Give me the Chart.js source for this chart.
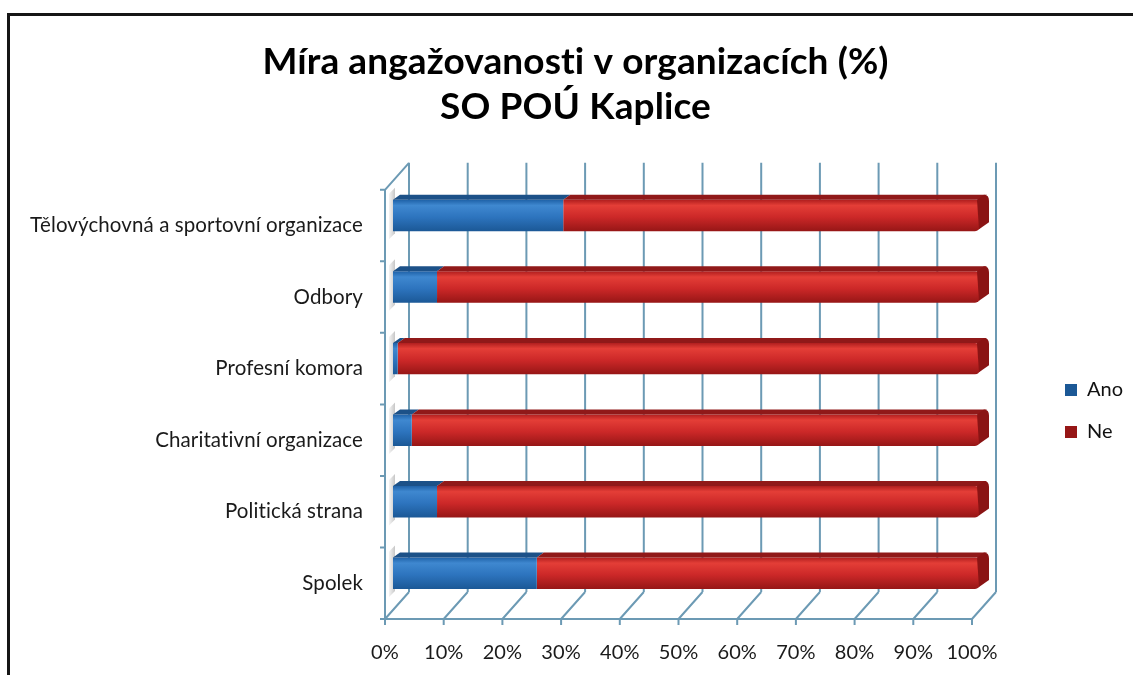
<!DOCTYPE html>
<html>
<head>
<meta charset="utf-8">
<script src="https://cdn.jsdelivr.net/npm/chart.js@4.4.0/dist/chart.umd.min.js"></script>
<style>
html, body { margin: 0; padding: 0; background: #fff; }
#wrap { position: relative; width: 1133px; height: 675px; overflow: hidden; }
#frame { position: absolute; left: 7px; top: 13px; width: 1300px; height: 900px; border-top: 3px solid #161616; border-left: 3px solid #161616; }
canvas { position: absolute; left: 0; top: 0; font-variant-ligatures: none; }
</style>
</head>
<body>
<div id="wrap">
  <div id="frame"></div>
  <canvas id="chart" width="1133" height="675"></canvas>
</div>
<script>
// data
const titleLines = ['Míra angažovanosti v organizacích (%)', 'SO POÚ Kaplice'];
const categories = [
    'Tělovýchovná a sportovní organizace',
    'Odbory',
    'Profesní komora',
    'Charitativní organizace',
    'Politická strana',
    'Spolek'
];
const seriesNames = ['Ano', 'Ne'];
const anoValues = [29, 7.5, 0.8, 3.2, 7.5, 24.5];
const neValues = [71, 92.5, 99.2, 96.8, 92.5, 75.5];
const xTicks = [0, 10, 20, 30, 40, 50, 60, 70, 80, 90, 100];

const FONT = 'Lato';
const GRID = '#6c9ab4';
// 3d offsets relative to the bar plane
const FRONT = { dx: -8, dy: 10 };
const BACK = { dx: 16, dy: -17 };
const DEPTH = { dx: 7, dy: -5 };
const BAR_PCT = 0.44;

const palettes = {
    Ano: { solid: '#2a6fb8', stops: ['#1f62a8', '#3f88d0', '#2d74be', '#1b5896'], top: '#1c5188', side: '#184a80' },
    Ne: { solid: '#cc2727', stops: ['#b01e1e', '#e43e37', '#cc2828', '#961616'], top: '#901919', side: '#8a1414' }
};

function barFill(name) {
    const pal = palettes[name];
    return function(context) {
        const chart = context.chart;
        if (context.dataIndex === undefined || !chart.chartArea || !chart.scales.y) return pal.solid;
        const yScale = chart.scales.y;
        const cy = yScale.getPixelForValue(context.dataIndex);
        const half = (yScale.height / categories.length) * BAR_PCT / 2;
        const g = chart.ctx.createLinearGradient(0, cy - half, 0, cy + half);
        g.addColorStop(0, pal.stops[0]);
        g.addColorStop(0.18, pal.stops[1]);
        g.addColorStop(0.55, pal.stops[2]);
        g.addColorStop(1, pal.stops[3]);
        return g;
    };
}

// no "ti" ligatures, the original font has none
const noLigatures = {
    id: 'noLigatures',
    beforeDraw(chart) {
        chart.ctx.letterSpacing = '0.1px';
    }
};

const frame3d = {
    id: 'frame3d',
    beforeDatasetsDraw(chart) {
        const ctx = chart.ctx;
        const xs = chart.scales.x;
        const area = chart.chartArea;
        const x0 = xs.getPixelForValue(0);
        ctx.save();
        // shadows of the bar ends on the left wall
        chart.getDatasetMeta(0).data.forEach(bar => {
            const top = bar.y - bar.height / 2;
            const bottom = bar.y + bar.height / 2;
            const g = ctx.createLinearGradient(x0 - 6, 0, x0 + 4, 0);
            g.addColorStop(0, 'rgba(150,150,150,0)');
            g.addColorStop(1, 'rgba(120,120,120,0.55)');
            ctx.fillStyle = g;
            ctx.beginPath();
            ctx.moveTo(x0 - 4, top - 6);
            ctx.lineTo(x0 + 2, top - 12);
            ctx.lineTo(x0 + 2, bottom + 2);
            ctx.lineTo(x0 - 4, bottom + 8);
            ctx.closePath();
            ctx.fill();
        });
        ctx.strokeStyle = GRID;
        ctx.lineWidth = 2;
        ctx.beginPath();
        xTicks.forEach(v => {
            const px = xs.getPixelForValue(v);
            // back wall
            ctx.moveTo(px + BACK.dx, area.top + BACK.dy);
            ctx.lineTo(px + BACK.dx, area.bottom + BACK.dy);
            // floor diagonal
            ctx.moveTo(px + FRONT.dx, area.bottom + FRONT.dy);
            ctx.lineTo(px + BACK.dx, area.bottom + BACK.dy);
            // tick mark
            ctx.moveTo(px + FRONT.dx, area.bottom + FRONT.dy);
            ctx.lineTo(px + FRONT.dx, area.bottom + FRONT.dy + 6);
        });
        // front floor edge
        ctx.moveTo(x0 + FRONT.dx, area.bottom + FRONT.dy);
        ctx.lineTo(xs.getPixelForValue(100) + FRONT.dx, area.bottom + FRONT.dy);
        // left wall
        ctx.moveTo(x0 + FRONT.dx, area.top + FRONT.dy);
        ctx.lineTo(x0 + FRONT.dx, area.bottom + FRONT.dy);
        ctx.moveTo(x0 + FRONT.dx, area.top + FRONT.dy);
        ctx.lineTo(x0 + BACK.dx, area.top + BACK.dy);
        const step = (area.bottom - area.top) / categories.length;
        for (let i = 0; i <= categories.length; i++) {
            const y = area.top + step * i + FRONT.dy;
            ctx.moveTo(x0 + FRONT.dx - 5, y);
            ctx.lineTo(x0 + FRONT.dx, y);
        }
        ctx.stroke();
        ctx.restore();
    },
    afterDatasetsDraw(chart) {
        const ctx = chart.ctx;
        ctx.save();
        chart.data.datasets.forEach((ds, di) => {
            const pal = palettes[ds.label];
            const meta = chart.getDatasetMeta(di);
            meta.data.forEach(bar => {
                const left = Math.min(bar.base, bar.x);
                const right = Math.max(bar.base, bar.x);
                const top = bar.y - bar.height / 2;
                const bottom = bar.y + bar.height / 2;
                ctx.fillStyle = pal.top;
                ctx.beginPath();
                ctx.moveTo(left, top);
                ctx.lineTo(right, top);
                ctx.lineTo(right + DEPTH.dx, top + DEPTH.dy);
                ctx.lineTo(left + DEPTH.dx, top + DEPTH.dy);
                ctx.closePath();
                ctx.fill();
                if (di === chart.data.datasets.length - 1) {
                    ctx.fillStyle = pal.side;
                    ctx.beginPath();
                    ctx.moveTo(right - 3, top);
                    ctx.lineTo(right + DEPTH.dx - 3, top + DEPTH.dy);
                    ctx.quadraticCurveTo(right + DEPTH.dx + 2, top + DEPTH.dy, right + DEPTH.dx + 2, top + DEPTH.dy + 6);
                    ctx.lineTo(right + DEPTH.dx + 2, bottom + DEPTH.dy - 4);
                    ctx.lineTo(right - 1, bottom - 2);
                    ctx.closePath();
                    ctx.fill();
                }
            });
        });
        ctx.restore();
    }
};

const ctx = document.getElementById('chart').getContext('2d');
new Chart(ctx, {
    type: 'bar',
    data: {
        labels: categories,
        datasets: [
            { label: seriesNames[0], data: anoValues, backgroundColor: barFill('Ano'), borderWidth: 0, barPercentage: BAR_PCT, categoryPercentage: 1 },
            { label: seriesNames[1], data: neValues, backgroundColor: barFill('Ne'), borderWidth: 0, barPercentage: BAR_PCT, categoryPercentage: 1,
              borderRadius: { topLeft: 0, bottomLeft: 0, topRight: 5, bottomRight: 5 }, borderSkipped: false }
        ]
    },
    options: {
        responsive: false,
        animation: false,
        indexAxis: 'y',
        layout: { padding: { left: 18, right: 0, top: 0, bottom: 8 } },
        plugins: {
            title: {
                display: true,
                text: titleLines,
                color: '#000',
                font: { family: FONT, size: 37, weight: 'bold', lineHeight: 1.2 },
                padding: { top: 40, bottom: 51 }
            },
            legend: {
                position: 'right',
                fullSize: false,
                title: { display: true, text: ' ', font: { size: 11, lineHeight: 1 }, padding: { top: 11, bottom: 11 } },
                labels: {
                    color: '#111',
                    font: { family: FONT, size: 20 },
                    boxWidth: 12,
                    boxHeight: 12,
                    padding: 22
                }
            },
            tooltip: { enabled: false }
        },
        scales: {
            x: {
                stacked: true,
                min: 0,
                max: 100,
                grid: { display: false, drawTicks: false },
                border: { display: false },
                ticks: {
                    stepSize: 10,
                    autoSkip: false,
                    maxRotation: 0,
                    padding: 32,
                    labelOffset: -8,
                    color: '#1a1a1a',
                    font: { family: FONT, size: 20 },
                    callback: v => v + '%'
                },
                afterFit: scale => { scale.height = 58; }
            },
            y: {
                stacked: true,
                grid: { display: false, drawTicks: false },
                border: { display: false },
                ticks: {
                    padding: 30,
                    labelOffset: 10,
                    color: '#1a1a1a',
                    font: { family: FONT, size: 20.5 }
                },
                afterFit: scale => { scale.width = 375; }
            },
            yRight: {
                type: 'category',
                position: 'right',
                labels: categories,
                grid: { display: false, drawTicks: false },
                border: { display: false },
                ticks: { display: false },
                afterFit: scale => { scale.width = 63; }
            }
        }
    },
    plugins: [noLigatures, frame3d]
});
</script>
</body>
</html>
